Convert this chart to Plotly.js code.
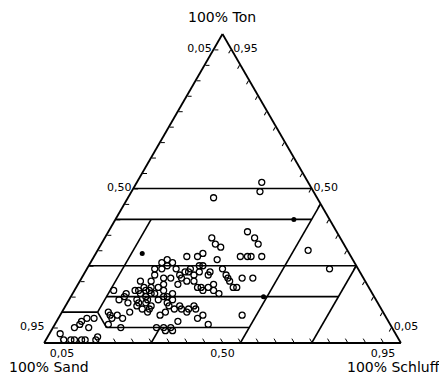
<!DOCTYPE html>
<html>
<head>
<meta charset="utf-8">
<script src="https://cdn.plot.ly/plotly-3.0.1.min.js"></script>
<style>html,body{margin:0;padding:0;background:#fff;}#chart{width:439px;height:379px;}</style>
</head>
<body>
<div id="chart"></div>
<script>
// Sample values in percent: Ton (clay) and Schluff (silt); Sand = 100 - Ton - Schluff
const sampleTon = [
 52,49,47,36,34,32,34,32,31,30,24,
 28,28,28,28,21,21,9,
 28,28,29,27,25,27,24,22,21,18,
 24,22,21,20,18,18,19,
 26,24,22,21,21,23,24,22,23,25,22,20,20,
 20,18,17,18,17,18,17,19,18,17,
 14,15,13,14,13,12,11,13,14,12,11,10,
 15,13,12,10,14,12,11,12,9,8,9,
 10,9,9,8,10,
 5,6,7,8,5,8,3,
 1,1,1,1,1,1,2,
 6,5,8,4,4,7,6,
 24,26,19,23,23,18,20,16,17,16,16,11,11,16,
 17,16,15,17,16,14,17,15,25,
 11,10,5,5,5
];
const sampleSchluff = [
 35,36,24,39,42,44,30,32,34,59,68,
 41,43,44,47,45,48,51,
 26,29,30,21,22,35,38,40,41,45,
 21,20,23,20,21,23,24,
 23,25,27,25,28,29,29,31,32,32,35,30,32,
 17,19,18,34,36,37,39,38,44,11,
 14,15,17,19,20,20,22,22,22,24,24,24,
 26,28,29,29,29,32,35,36,40,39,28,
 13,14,16,18,19,
 6,7,7,8,10,10,3,
 5,7,8,10,11,14,14,
 15,19,15,32,34,34,43,
 19,20,28,28,35,35,42,41,20,22,28,31,37,15,
 17,19,21,21,23,25,25,27,31,
 33,35,33,31,29
];
// Solid marks
const solidTon = [29, 40, 15];
const solidSchluff = [13, 50, 54];

// Class boundaries: [start, end] in percent
const boundaryTon =     [[50,50],[40,40],[25,25],[15,15],[10,10],[5,5], [40,10],[10,5], [5,0],  [45,0], [25,0]];
const boundarySchluff = [[0,50], [0,55], [0,75], [10,75],[0,10], [15,55],[10,10],[10,15],[30,30],[55,55],[75,75]];

// Tick values and labels (each edge is read as the complementary fraction)
const tickValues = [5,10,15,20,25,30,35,40,45,50,55,60,65,70,75,80,85,90,95];
const labelledTicks = {5:'0,95', 50:'0,50', 95:'0,05'};
const leftEdgeLabelled = {50:'0,50', 95:'0,05'};   // drawn by the axis
const leftEdgeLow = {value:5, text:'0,95'};         // drawn as annotation at that tick

const axisTitles = {top:'100% Ton', left:'100% Sand', right:'100% Schluff'};

function sandOf(t, u){ return t.map((v,i)=> 100 - v - u[i]); }

const la = [], lb = [], lc = [];
boundaryTon.forEach((seg, i) => {
  for (let k = 0; k < 2; k++) {
    const t = seg[k], u = boundarySchluff[i][k];
    la.push(t); lc.push(u); lb.push(100 - t - u);
  }
  la.push(null); lb.push(null); lc.push(null);
});

const traces = [
  {type:'scatterternary', mode:'lines', a:la, b:lb, c:lc,
   line:{color:'#000', width:1.6}, connectgaps:false, hoverinfo:'skip'},
  {type:'scatterternary', mode:'markers', a:sampleTon, b:sandOf(sampleTon, sampleSchluff), c:sampleSchluff,
   marker:{symbol:'circle-open', size:6, color:'#000', line:{width:1.3, color:'#000'}}},
  {type:'scatterternary', mode:'markers', a:solidTon, b:sandOf(solidTon, solidSchluff), c:solidSchluff,
   marker:{symbol:'circle', size:5, color:'#000'}}
];

const tickFont = {family:'DejaVu Sans, sans-serif', size:11, color:'#000'};
function axis(textMap){
  return {
    tickmode:'array', tickvals:tickValues,
    ticktext:tickValues.map(v => textMap[v] || ''),
    ticks:'inside', ticklen:4, tickwidth:1, tickcolor:'#000',
    showgrid:false, linecolor:'#000', linewidth:1.8,
    tickfont:tickFont, title:{text:''}
  };
}

// left edge point of the (equilateral) ternary in paper units, for a given Ton value
function leftEdgePaper(ton){ return {x: ton / 100 / 2, y: ton / 100}; }
const lowPt = leftEdgePaper(leftEdgeLow.value);

const titleFont = {family:'DejaVu Sans, sans-serif', size:14, color:'#000'};
const layout = {
  width:439, height:379,
  margin:{l:44, r:38, t:34, b:36},
  paper_bgcolor:'#fff', plot_bgcolor:'#fff',
  showlegend:false,
  ternary:{
    sum:100, bgcolor:'#fff',
    aaxis: axis(leftEdgeLabelled),
    baxis: axis(labelledTicks),
    caxis: axis(labelledTicks)
  },
  annotations:[
    {text:leftEdgeLow.text, xref:'paper', yref:'paper', x:lowPt.x, y:lowPt.y, xshift:-6, yshift:1,
     showarrow:false, font:tickFont, xanchor:'right', yanchor:'middle'},
    {text:axisTitles.top, xref:'paper', yref:'paper', x:0.499, y:1.055, showarrow:false, font:titleFont, xanchor:'center', yanchor:'middle'},
    {text:axisTitles.left, xref:'paper', yref:'paper', x:0.015, y:-0.078, showarrow:false, font:titleFont, xanchor:'center', yanchor:'middle'},
    {text:axisTitles.right, xref:'paper', yref:'paper', x:0.978, y:-0.078, showarrow:false, font:titleFont, xanchor:'center', yanchor:'middle'}
  ]
};

Plotly.newPlot('chart', traces, layout, {displayModeBar:false, staticPlot:true});
</script>
</body>
</html>
